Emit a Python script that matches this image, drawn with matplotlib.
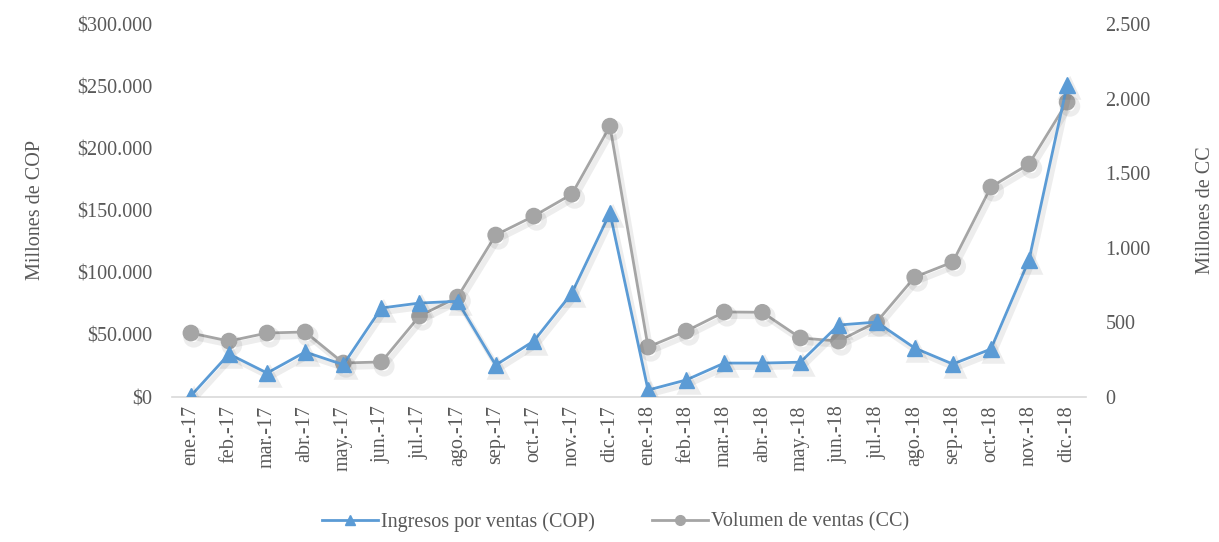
import matplotlib.pyplot as plt
import matplotlib.patheffects as pe
from matplotlib.ticker import FuncFormatter

# Data
meses = ["ene.-17", "feb.-17", "mar.-17", "abr.-17", "may.-17", "jun.-17",
         "jul.-17", "ago.-17", "sep.-17", "oct.-17", "nov.-17", "dic.-17",
         "ene.-18", "feb.-18", "mar.-18", "abr.-18", "may.-18", "jun.-18",
         "jul.-18", "ago.-18", "sep.-18", "oct.-18", "nov.-18", "dic.-18"]
ingresos_cop = [1000, 34600, 19300, 36200, 26000, 71600, 75600, 77000,
                25700, 45000, 83600, 148000, 5600, 13700, 27300, 27300,
                28000, 57900, 60300, 39400, 26500, 38600, 110200, 251000]
volumen_cc = [429, 375, 429, 436, 228, 235, 543, 670, 1086, 1213, 1360, 1816,
              335, 442, 570, 568, 396, 375, 503, 804, 905, 1408, 1562, 1977]

blue = "#5b9bd5"
gray = "#a5a5a5"
txt = "#595959"

plt.rcParams["font.family"] = ["Liberation Serif", "DejaVu Serif"]
plt.rcParams["font.size"] = 14.5

fig = plt.figure(figsize=(12.19, 5.42), dpi=100)
ax1 = fig.add_axes([0.141, 0.2675, 0.75, 0.688])
ax2 = ax1.twinx()

x = list(range(len(meses)))
shadow = [pe.SimpleLineShadow(offset=(2, -3), shadow_color="k", alpha=0.07, linewidth=4),
          pe.Normal()]

l1, = ax1.plot(x, ingresos_cop, color=blue, lw=2, marker="^", ms=11,
               label="Ingresos por ventas (COP)", path_effects=shadow, zorder=3)
l2, = ax2.plot(x, volumen_cc, color=gray, lw=2, marker="o", ms=11,
               label="Volumen de ventas (CC)", path_effects=shadow, zorder=2)

ax1.set_zorder(ax2.get_zorder() + 1)
ax1.patch.set_visible(False)

ax1.set_xlim(-0.5, len(meses) - 0.5)
ax1.set_ylim(0, 300000)
ax2.set_ylim(0, 2500)
ax1.set_yticks(range(0, 300001, 50000))
ax2.set_yticks(range(0, 2501, 500))
ax1.yaxis.set_major_formatter(FuncFormatter(lambda v, p: "${:,.0f}".format(v).replace(",", ".")))
ax2.yaxis.set_major_formatter(FuncFormatter(lambda v, p: "{:,.0f}".format(v).replace(",", ".")))

ax1.set_xticks(x)
ax1.set_xticklabels(meses, rotation=90)

for ax in (ax1, ax2):
    for s in ("top", "left", "right", "bottom"):
        ax.spines[s].set_visible(False)
    ax.tick_params(length=0, colors=txt, labelsize=14.5)
ax1.spines["bottom"].set_visible(True)
ax1.spines["bottom"].set_color("#d9d9d9")
ax1.spines["bottom"].set_linewidth(1.2)
ax1.tick_params(axis="y", pad=14)
ax2.tick_params(axis="y", pad=14)
ax1.tick_params(axis="x", pad=6)

# axis titles
fig.text(35 / 1219, 0.612, "Millones de COP", color=txt, fontsize=14.5,
         rotation=90, ha="center", va="center")
fig.text(1205 / 1219, 0.612, "Millones de CC", color=txt, fontsize=14.5,
         rotation=90, ha="center", va="center")

plain1 = plt.Line2D([], [], color=blue, lw=2, marker="^", ms=7)
plain2 = plt.Line2D([], [], color=gray, lw=2, marker="o", ms=7)
leg = fig.legend(handles=[plain1, plain2],
                 labels=[l1.get_label(), l2.get_label()],
                 loc="center", bbox_to_anchor=(0.505, 0.037),
                 ncol=2, frameon=False, fontsize=14.5,
                 handlelength=2.8, columnspacing=2.8, handletextpad=0.15)
for t in leg.get_texts():
    t.set_color(txt)

fig.savefig("out.png", dpi=100)
